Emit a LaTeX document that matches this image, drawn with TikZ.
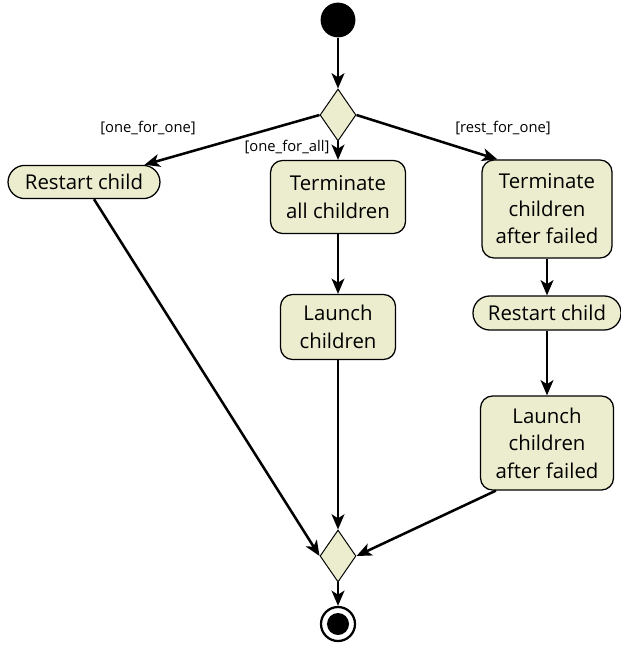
\documentclass[tikz,border=0pt]{standalone}
\usepackage{fontspec}
\setmainfont{Open Sans}
\usepackage{tikz}
\usetikzlibrary{arrows.meta, positioning, shapes.geometric, calc}
\usepackage{xcolor}
\definecolor{actfill}{RGB}{236,236,206}

\begin{document}
\begin{tikzpicture}[every node/.style={font=\fontsize{14.5}{19.5}\selectfont},
   act/.style={rectangle, rounded corners=0.3cm, draw, line width=0.9pt, fill=actfill,
               align=center, inner sep=1pt},
   pill/.style={act, rounded corners=0.42cm},
   choice/.style={diamond, draw, line width=0.7pt, fill=actfill, inner sep=0pt,
                  minimum width=0.9cm, minimum height=1.3cm},
   guard/.style={font=\fontsize{10.5}{12}\selectfont},
   flow/.style={line width=1.8pt, -{Stealth[length=3.8mm, width=3.2mm, inset=1mm]}}]

  \useasboundingbox (0,0) rectangle (15.5,-16.15);

  % start and first choice
  \node[circle, fill=black, minimum size=0.87cm, inner sep=0pt] (start) at (8.45,-0.5) {};
  \node[choice] (split) at (8.45,-2.875) {};

  % one_for_one
  \node[pill, minimum width=3.8cm, minimum height=0.83cm] (restart1) at (2.1,-4.55) {Restart child};

  % one_for_all
  \node[act, minimum width=3.375cm, minimum height=1.825cm] (termall) at (8.45,-4.925) {Terminate\\all children};
  \node[act, minimum width=2.875cm, minimum height=1.625cm] (launch) at (8.45,-8.175) {Launch\\children};

  % rest_for_one
  \node[act, minimum width=3.25cm, minimum height=2.45cm] (termrest) at (13.675,-5.225) {Terminate\\children\\after failed};
  \node[pill, minimum width=3.7cm, minimum height=0.85cm] (restart2) at (13.675,-7.825) {Restart child};
  \node[act, minimum width=3.325cm, minimum height=2.35cm] (launchrest) at (13.675,-11.075) {Launch\\children\\after failed};

  % merge and end
  \node[choice] (merge) at (8.45,-13.9) {};
  \node[circle, draw, line width=1.6pt, fill=white, minimum size=0.85cm, inner sep=0pt] (stop) at (8.45,-15.6) {};
  \node[circle, fill=black, minimum size=0.55cm, inner sep=0pt] (stopdot) at (stop) {};

  \draw[flow] (start) -- (split.north);
  \draw[flow] (split.west) -- (restart1);
  \draw[flow] (split.south) -- (termall);
  \draw[flow] (split.east) -- ([xshift=0.4cm]termrest.north west);
  \draw[flow] (termall) -- (launch);
  \draw[flow] (termrest) -- (restart2);
  \draw[flow] (restart2) -- (launchrest);
  \draw[flow] ([xshift=0.25cm]restart1.south) -- (merge.west);
  \draw[flow] (launch) -- (merge.north);
  \draw[flow] ([xshift=0.4cm]launchrest.south west) -- (merge.east);
  \draw[flow] (merge.south) -- (stop);

  \node[guard] (g1) at (3.7,-3.2) {[one\_for\_one]};
  \node[guard] (g2) at (7.175,-3.675) {[one\_for\_all]};
  \node[guard] (g3) at (12.575,-3.2) {[rest\_for\_one]};
\end{tikzpicture}
\end{document}
